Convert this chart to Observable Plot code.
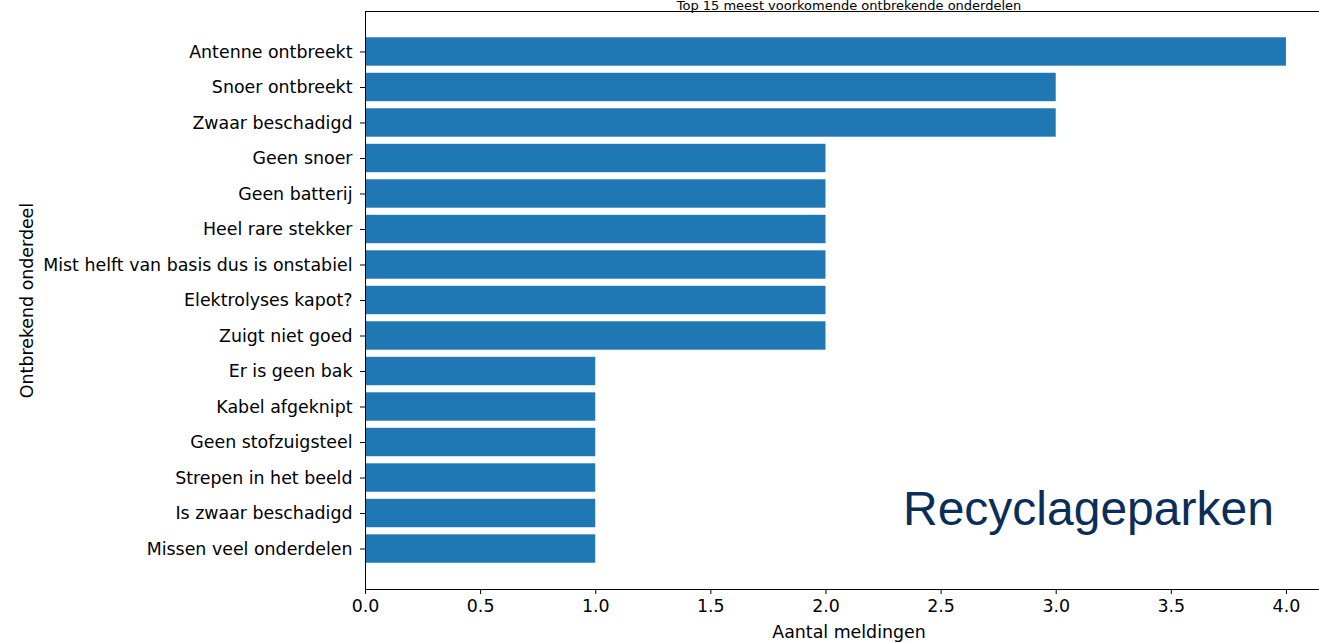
<!DOCTYPE html>
<html>
<head>
<meta charset="utf-8">
<script src="https://cdn.jsdelivr.net/npm/d3@7"></script>
<script src="https://cdn.jsdelivr.net/npm/@observablehq/plot@0.6"></script>
<style>
  html, body { margin: 0; padding: 0; background: #fff; overflow: hidden; width: 1319px; height: 643px; }
  #chart { position: relative; width: 1319px; height: 643px; }
  #chart svg { overflow: visible; }
  #stamp { position: absolute; left: 903px; top: 481px; font-family: "Liberation Sans", Arial, sans-serif; font-size: 48px; color: #0b2e59; white-space: nowrap; }
</style>
</head>
<body>
<div id="chart"><div id="stamp">Recyclageparken</div></div>
<script>
const categories = [
  "Antenne ontbreekt", "Snoer ontbreekt", "Zwaar beschadigd", "Geen snoer", "Geen batterij",
  "Heel rare stekker", "Mist helft van basis dus is onstabiel", "Elektrolyses kapot?", "Zuigt niet goed",
  "Er is geen bak", "Kabel afgeknipt", "Geen stofzuigsteel", "Strepen in het beeld",
  "Is zwaar beschadigd", "Missen veel onderdelen"
];
const counts = [4, 3, 3, 2, 2, 2, 2, 2, 2, 1, 1, 1, 1, 1, 1];
const xTicks = [0, 0.5, 1, 1.5, 2, 2.5, 3, 3.5, 4];
const title = "Top 15 meest voorkomende ontbrekende onderdelen";

const data = categories.map((c, i) => ({category: c, count: counts[i]}));

const plot = Plot.plot({
  width: 1319,
  height: 643,
  marginTop: 11,
  marginBottom: 54,
  marginLeft: 365,
  marginRight: -13,
  style: {fontFamily: "'DejaVu Sans', sans-serif", fontSize: "17.4px", color: "#000", background: "#fff", overflow: "visible"},
  x: {domain: [0, 4.2]},
  y: {domain: categories, paddingInner: 0.2, paddingOuter: 0.74, align: 0.5, round: false},
  marks: [
    Plot.barX(data, {x: "count", y: "category", fill: "#1f77b4", insetTop: 0, insetBottom: 0}),
    Plot.frame({stroke: "#000", strokeWidth: 1}),
    Plot.axisX({ticks: xTicks, tickFormat: d3.format(".1f"), tickSize: 5, tickPadding: 5,
      label: "Aantal meldingen", labelAnchor: "center", labelArrow: "none", labelOffset: 48, stroke: "#000"}),
    Plot.axisY({tickSize: 5, tickPadding: 8,
      label: "Ontbrekend onderdeel", labelAnchor: "center", labelArrow: "none", labelOffset: 345, stroke: "#000"}),
    Plot.text([title], {frameAnchor: "top", dy: -2, lineAnchor: "bottom", text: d => d, fontSize: 13, textAnchor: "middle"})
  ]
});
document.getElementById("chart").prepend(plot);
</script>
</body>
</html>
